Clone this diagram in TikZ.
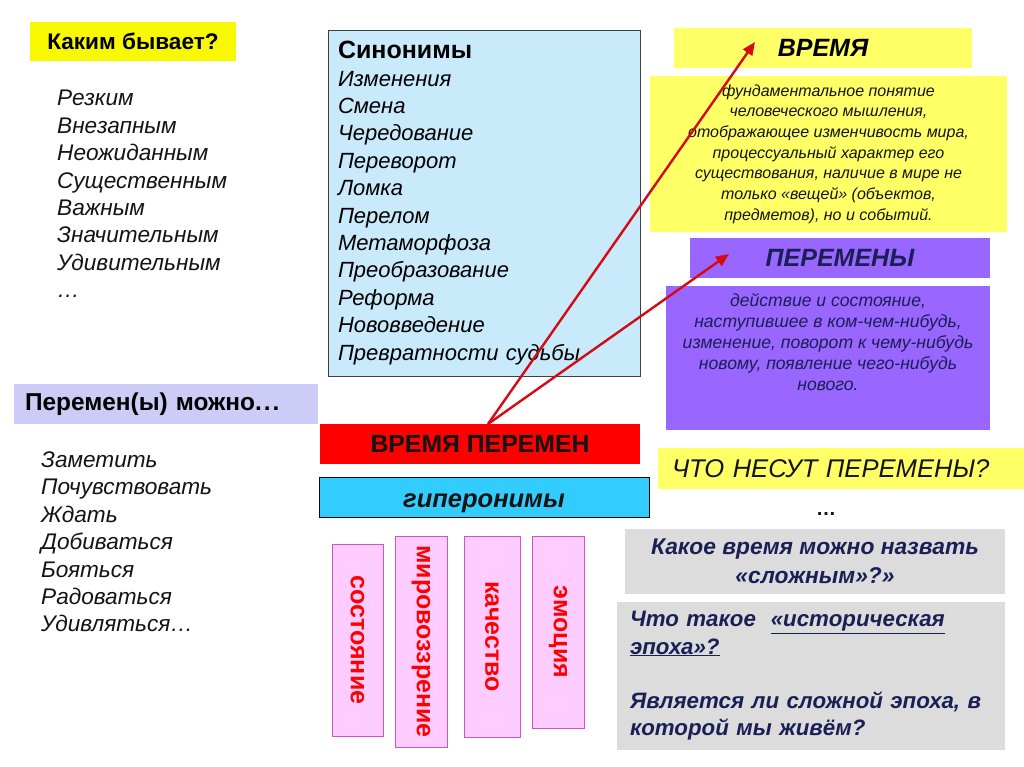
\documentclass[tikz,border=0pt]{standalone}
\usepackage{fontspec}
\setmainfont{Liberation Sans}
\usetikzlibrary{
  arrows.meta,
  positioning
}
\definecolor{yelA}{HTML}{F8F800}
\definecolor{yelB}{HTML}{FFFF66}
\definecolor{synblue}{HTML}{C9EAFB}
\definecolor{violet}{HTML}{9966FF}
\definecolor{lavender}{HTML}{CCCCF6}
\definecolor{hypcyan}{HTML}{33CCFF}
\definecolor{pinkbox}{HTML}{FFCCFF}
\definecolor{pinkline}{HTML}{CC55CC}
\definecolor{qgray}{HTML}{DCDCDC}
\definecolor{navy}{HTML}{1A1F55}
\definecolor{arrred}{HTML}{D40A14}
\definecolor{ink}{HTML}{141414}

\begin{document}
\begin{tikzpicture}[
  x=1pt, y=-1pt,
  box/.style={inner sep=0pt, outer sep=0pt},
  list/.style={inner sep=0pt, align=left, text=ink, font=\fontsize{22.6}{27.4}\selectfont\itshape},
  defn/.style={inner sep=0pt, align=center, font=\fontsize{16}{20.7}\selectfont\itshape},
  word/.style={box, draw=pinkline, line width=0.8pt, fill=pinkbox, rotate=-90, text=red,
    font=\fontsize{25}{26}\selectfont\bfseries},
  arr/.style={-{Triangle[length=13pt,width=11pt]}, line width=2.4pt, draw=arrred}
]
\useasboundingbox (0,0) rectangle (1024,767);
\fill[white] (0,0) rectangle (1024,767);

% Left column: adjectives
\node[box, fill=yelA, minimum width=206pt, minimum height=39pt,
  font=\fontsize{22.6}{25}\selectfont\bfseries] (kakim) at (133,41.5) {Каким бывает?};
\node[list, anchor=west] (adj) at (57,194) {Резким\\Внезапным\\Неожиданным\\Существенным\\Важным\\Значительным\\Удивительным\\…};

% Synonyms
\node[box, draw=black!75, line width=0.8pt, fill=synblue, minimum width=312pt, minimum height=346pt,
  text width=292pt, align=left, font=\fontsize{22}{27.4}\selectfont] (syn) at (484,203)
  {{\fontsize{25}{27.4}\selectfont\bfseries Синонимы}\\\itshape Изменения\\Смена\\Чередование\\Переворот\\Ломка\\Перелом\\Метаморфоза\\Преобразование\\Реформа\\Нововведение\\Превратности судьбы};

% Right: time
\node[box, fill=yelB, minimum width=298pt, minimum height=40pt,
  font=\fontsize{25}{30}\selectfont\bfseries\itshape] (vremya) at (823,48) {ВРЕМЯ};
\node[box, fill=yelB, minimum width=357pt, minimum height=156pt, defn, text=ink] (vdef) at (828.5,154)
  {фундаментальное понятие\\человеческого мышления,\\отображающее изменчивость мира,\\процессуальный характер его\\существования, наличие в мире не\\только «вещей» (объектов,\\предметов), но и событий.};

% Right: changes
\node[box, fill=violet, minimum width=300pt, minimum height=40pt, text=navy,
  font=\fontsize{25}{30}\selectfont\bfseries\itshape] (peremeny) at (840,258) {ПЕРЕМЕНЫ};
\node[box, fill=violet, minimum width=324pt, minimum height=144pt] (pdef) at (828,358) {};
\node[defn, text=navy, font=\fontsize{17.6}{21}\selectfont\itshape, below=7pt of pdef.north] (pdeftext)
  {действие и состояние,\\наступившее в ком-чем-нибудь,\\изменение, поворот к чему-нибудь\\новому, появление чего-нибудь\\нового.};

% Left column: verbs
\node[box, fill=lavender, minimum width=304pt, minimum height=40pt, text width=282pt, align=left,
  font=\fontsize{24.4}{26}\selectfont\bfseries] (mozhno) at (166,404) {Перемен(ы) можно.\kern2pt.\kern2pt.};
\node[list, anchor=west] (verbs) at (41,542) {Заметить\\Почувствовать\\Ждать\\Добиваться\\Бояться\\Радоваться\\Удивляться…};

% Centre: title and hyperonyms
\node[box, fill=red, minimum width=320pt, minimum height=40pt, text=ink,
  font=\fontsize{24.8}{26}\selectfont\bfseries] (vp) at (480,444) {ВРЕМЯ ПЕРЕМЕН};
\node[box, draw=black, line width=0.8pt, fill=hypcyan, minimum width=330pt, minimum height=40pt, text=ink,
  font=\fontsize{25.5}{26}\selectfont\bfseries\itshape] (hyper) at (484,497)
  {\raisebox{-6pt}[\height][\depth]{гиперонимы}};

\node[word, minimum width=192pt, minimum height=51pt] (sost) at (357.5,640) {состояние};
\node[word, minimum width=211pt, minimum height=52pt] (mirov) at (421,641.5) {мировоззрение};
\node[word, minimum width=201pt, minimum height=56pt] (kach) at (492,636.5) {качество};
\node[word, minimum width=192pt, minimum height=52pt] (emo) at (558,632) {эмоция};

% Right: questions
\node[box, fill=yelB, minimum height=41pt, text width=338pt, inner xsep=14pt, align=left, text=ink,
  font=\fontsize{25.6}{28}\selectfont\itshape] (chto) at (841,468.5) {ЧТО НЕСУТ ПЕРЕМЕНЫ?};
\node[inner sep=0pt, text=ink, font=\fontsize{20}{24}\selectfont\bfseries] (dots) at (826,514) {…};
\node[box, fill=qgray, minimum width=380pt, minimum height=65pt, align=center, text=navy,
  font=\fontsize{22.8}{29}\selectfont\bfseries\itshape] (q1) at (815,561.5)
  {Какое время можно назвать\\«сложным»?»};
\node[box, fill=qgray, minimum height=148pt, text width=362pt, inner xsep=13pt, align=left, text=navy,
  font=\fontsize{22.3}{27.3}\selectfont\bfseries\itshape] (q2) at (811,676)
  {Что такое\ \ \underline{«историческая}\\\underline{эпоха»?}\\[27.3pt]Является ли сложной эпоха, в\\которой мы живём?};

% Arrows
\coordinate (vtip) at (755,42);
\coordinate (ptip) at (729,254);
\draw[arr] ([xshift=8pt]vp.north) -- (vtip);
\draw[arr] ([xshift=8pt]vp.north) -- (ptip);

\end{tikzpicture}
\end{document}
